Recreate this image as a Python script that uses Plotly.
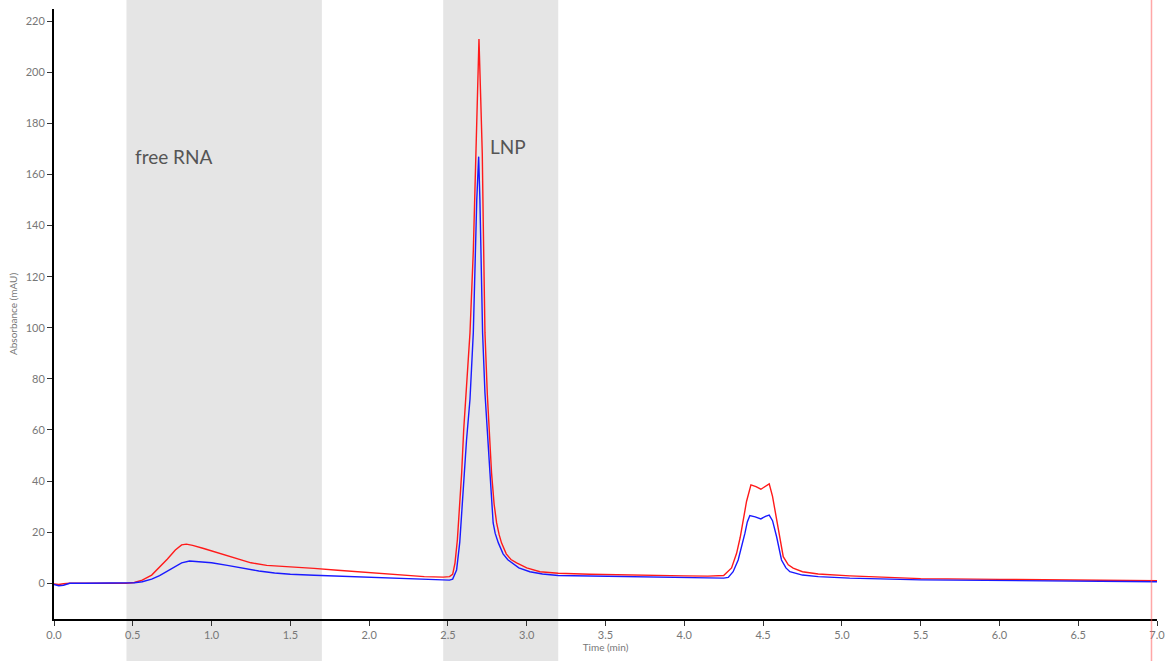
import plotly.graph_objects as go

# ---- data ----
red_time = [0, 0.03, 0.06, 0.1, 0.2, 0.3, 0.4, 0.46, 0.51, 0.56, 0.62, 0.67, 0.72, 0.77, 0.81, 0.84,
            0.88, 0.95, 1.05, 1.15, 1.25, 1.35, 1.45, 1.55, 1.65, 1.8, 1.95, 2.05, 2.2, 2.35, 2.47,
            2.51, 2.53, 2.545, 2.56, 2.575, 2.587, 2.6, 2.608, 2.618, 2.64, 2.661, 2.676, 2.687,
            2.697, 2.708, 2.718, 2.724, 2.735, 2.75, 2.765, 2.777, 2.793, 2.809, 2.825, 2.84, 2.87,
            2.9, 2.936, 3.0, 3.084, 3.2, 3.4, 3.6, 3.8, 4.0, 4.15, 4.25, 4.3, 4.332, 4.355, 4.374,
            4.395, 4.423, 4.455, 4.486, 4.515, 4.539, 4.56, 4.596, 4.628, 4.66, 4.691, 4.75, 4.85,
            5.05, 5.5, 6.0, 6.5, 7.0]
red_abs = [-0.3, -0.5, -0.2, 0, 0, 0, 0, 0, 0.3, 1.2, 3.2, 6.2, 9.5, 13.0, 15.0, 15.3,
           14.8, 13.6, 11.8, 9.8, 8.0, 7.0, 6.5, 6.1, 5.8, 5.1, 4.4, 3.9, 3.1, 2.6, 2.4,
           2.6, 3.5, 8, 17, 30, 43, 60, 68, 74, 98, 130, 168, 195,
           213, 190, 168, 142, 98, 74, 55, 43, 31, 23.6, 19, 15.8, 11.5,
           9.3, 8.0, 6.0, 4.5, 3.9, 3.5, 3.2, 3.0, 2.9, 2.8, 3.0, 6.0, 11.7, 18, 24.8,
           32, 38.5, 37.8, 36.8, 38.0, 38.9, 34, 22.2, 10.4, 7.2, 5.9, 4.5, 3.6,
           2.9, 1.8, 1.5, 1.2, 1.0]

blue_time = [0, 0.03, 0.06, 0.1, 0.2, 0.3, 0.4, 0.46, 0.51, 0.56, 0.62, 0.67, 0.72, 0.77, 0.81,
             0.86, 0.92, 1.0, 1.1, 1.2, 1.3, 1.4, 1.5, 1.65, 1.8, 1.95, 2.05, 2.2, 2.35, 2.47,
             2.51, 2.53, 2.555, 2.575, 2.597, 2.618, 2.64, 2.661, 2.683, 2.695, 2.703, 2.72,
             2.735, 2.75, 2.767, 2.787, 2.8, 2.82, 2.85, 2.88, 2.904, 2.95, 3.02, 3.1, 3.2, 3.4,
             3.6, 3.8, 4.0, 4.15, 4.25, 4.279, 4.31, 4.342, 4.365, 4.385, 4.4, 4.416, 4.45, 4.486,
             4.515, 4.539, 4.56, 4.586, 4.617, 4.645, 4.67, 4.75, 4.85, 5.05, 5.5, 6.0, 6.5, 7.0]
blue_abs = [-0.5, -1.0, -0.8, 0, 0, 0, 0, 0, 0.2, 0.6, 1.6, 3.0, 4.7, 6.6, 8.0,
            8.7, 8.5, 8.0, 7.0, 5.9, 4.8, 4.0, 3.5, 3.1, 2.8, 2.4, 2.2, 1.8, 1.4, 1.2,
            1.2, 1.6, 5.2, 16, 36.5, 56, 72, 98, 150, 167, 150, 98,
            74.5, 58, 43, 23.6, 19.5, 15.8, 11.5, 9.2, 8.0, 6.0, 4.5, 3.6, 3.0, 2.8,
            2.6, 2.4, 2.2, 2.0, 2.0, 2.3, 4.5, 9.1, 14.5, 19.6, 24, 26.5, 26.0, 25.2,
            26.2, 26.7, 24.5, 18.2, 9.1, 6.0, 4.5, 3.2, 2.6, 2.0, 1.3, 1.0, 0.8, 0.6]

shaded_regions = [(0.46, 1.70), (2.47, 3.20)]
region_labels = ["free RNA", "LNP"]
label_pos = [(0.50, 167), (2.754, 171)]
marker_time = 6.965

x_ticks = [0.0, 0.5, 1.0, 1.5, 2.0, 2.5, 3.0, 3.5, 4.0, 4.5, 5.0, 5.5, 6.0, 6.5, 7.0]
y_ticks = list(range(0, 221, 20))

FONT = "Lato, 'Open Sans', sans-serif"

fig = go.Figure()
fig.add_trace(go.Scatter(x=red_time, y=red_abs, mode="lines",
                         line=dict(color="#ff1a1a", width=1.4), showlegend=False))
fig.add_trace(go.Scatter(x=blue_time, y=blue_abs, mode="lines",
                         line=dict(color="#1a1aff", width=1.4), showlegend=False))

for (x0, x1) in shaded_regions:
    fig.add_shape(type="rect", xref="x", yref="paper", x0=x0, x1=x1, y0=-0.08, y1=1.03,
                  fillcolor="#e5e5e5", line=dict(width=0), layer="below")

fig.add_shape(type="line", xref="x", yref="paper", x0=marker_time, x1=marker_time,
              y0=-0.08, y1=1.03, line=dict(color="rgba(255,80,80,0.5)", width=1.5), layer="above")

for txt, (lx, ly) in zip(region_labels, label_pos):
    fig.add_annotation(x=lx, y=ly, text=txt, showarrow=False, xanchor="left", yanchor="middle",
                       font=dict(family=FONT, size=19, color="#555555"))

fig.update_layout(
    width=1166, height=661,
    margin=dict(l=54, r=9, t=9, b=42),
    paper_bgcolor="white", plot_bgcolor="rgba(0,0,0,0)",
    font=dict(family=FONT, color="#777777"),
    showlegend=False,
)
fig.update_xaxes(range=[0, 7], tickvals=x_ticks, ticktext=[f"{v:.1f}" for v in x_ticks],
                 automargin=False,
                 showgrid=False, zeroline=False, showline=True, linecolor="black", linewidth=2,
                 ticks="outside", ticklen=5, tickcolor="#333333", tickwidth=1,
                 tickfont=dict(size=11, color="#777777"),
                 title=dict(text="Time (min)", font=dict(size=10, color="#777777"), standoff=4))
fig.update_yaxes(range=[-14, 224.8], tickvals=y_ticks, automargin=False,
                 showgrid=False, zeroline=False, showline=True, linecolor="black", linewidth=2,
                 ticks="outside", ticklen=5, tickcolor="#333333", tickwidth=1,
                 tickfont=dict(size=11, color="#777777"),
                 title=dict(text="Absorbance (mAU)", font=dict(size=10, color="#777777"), standoff=6))

fig.write_html("out.html")
